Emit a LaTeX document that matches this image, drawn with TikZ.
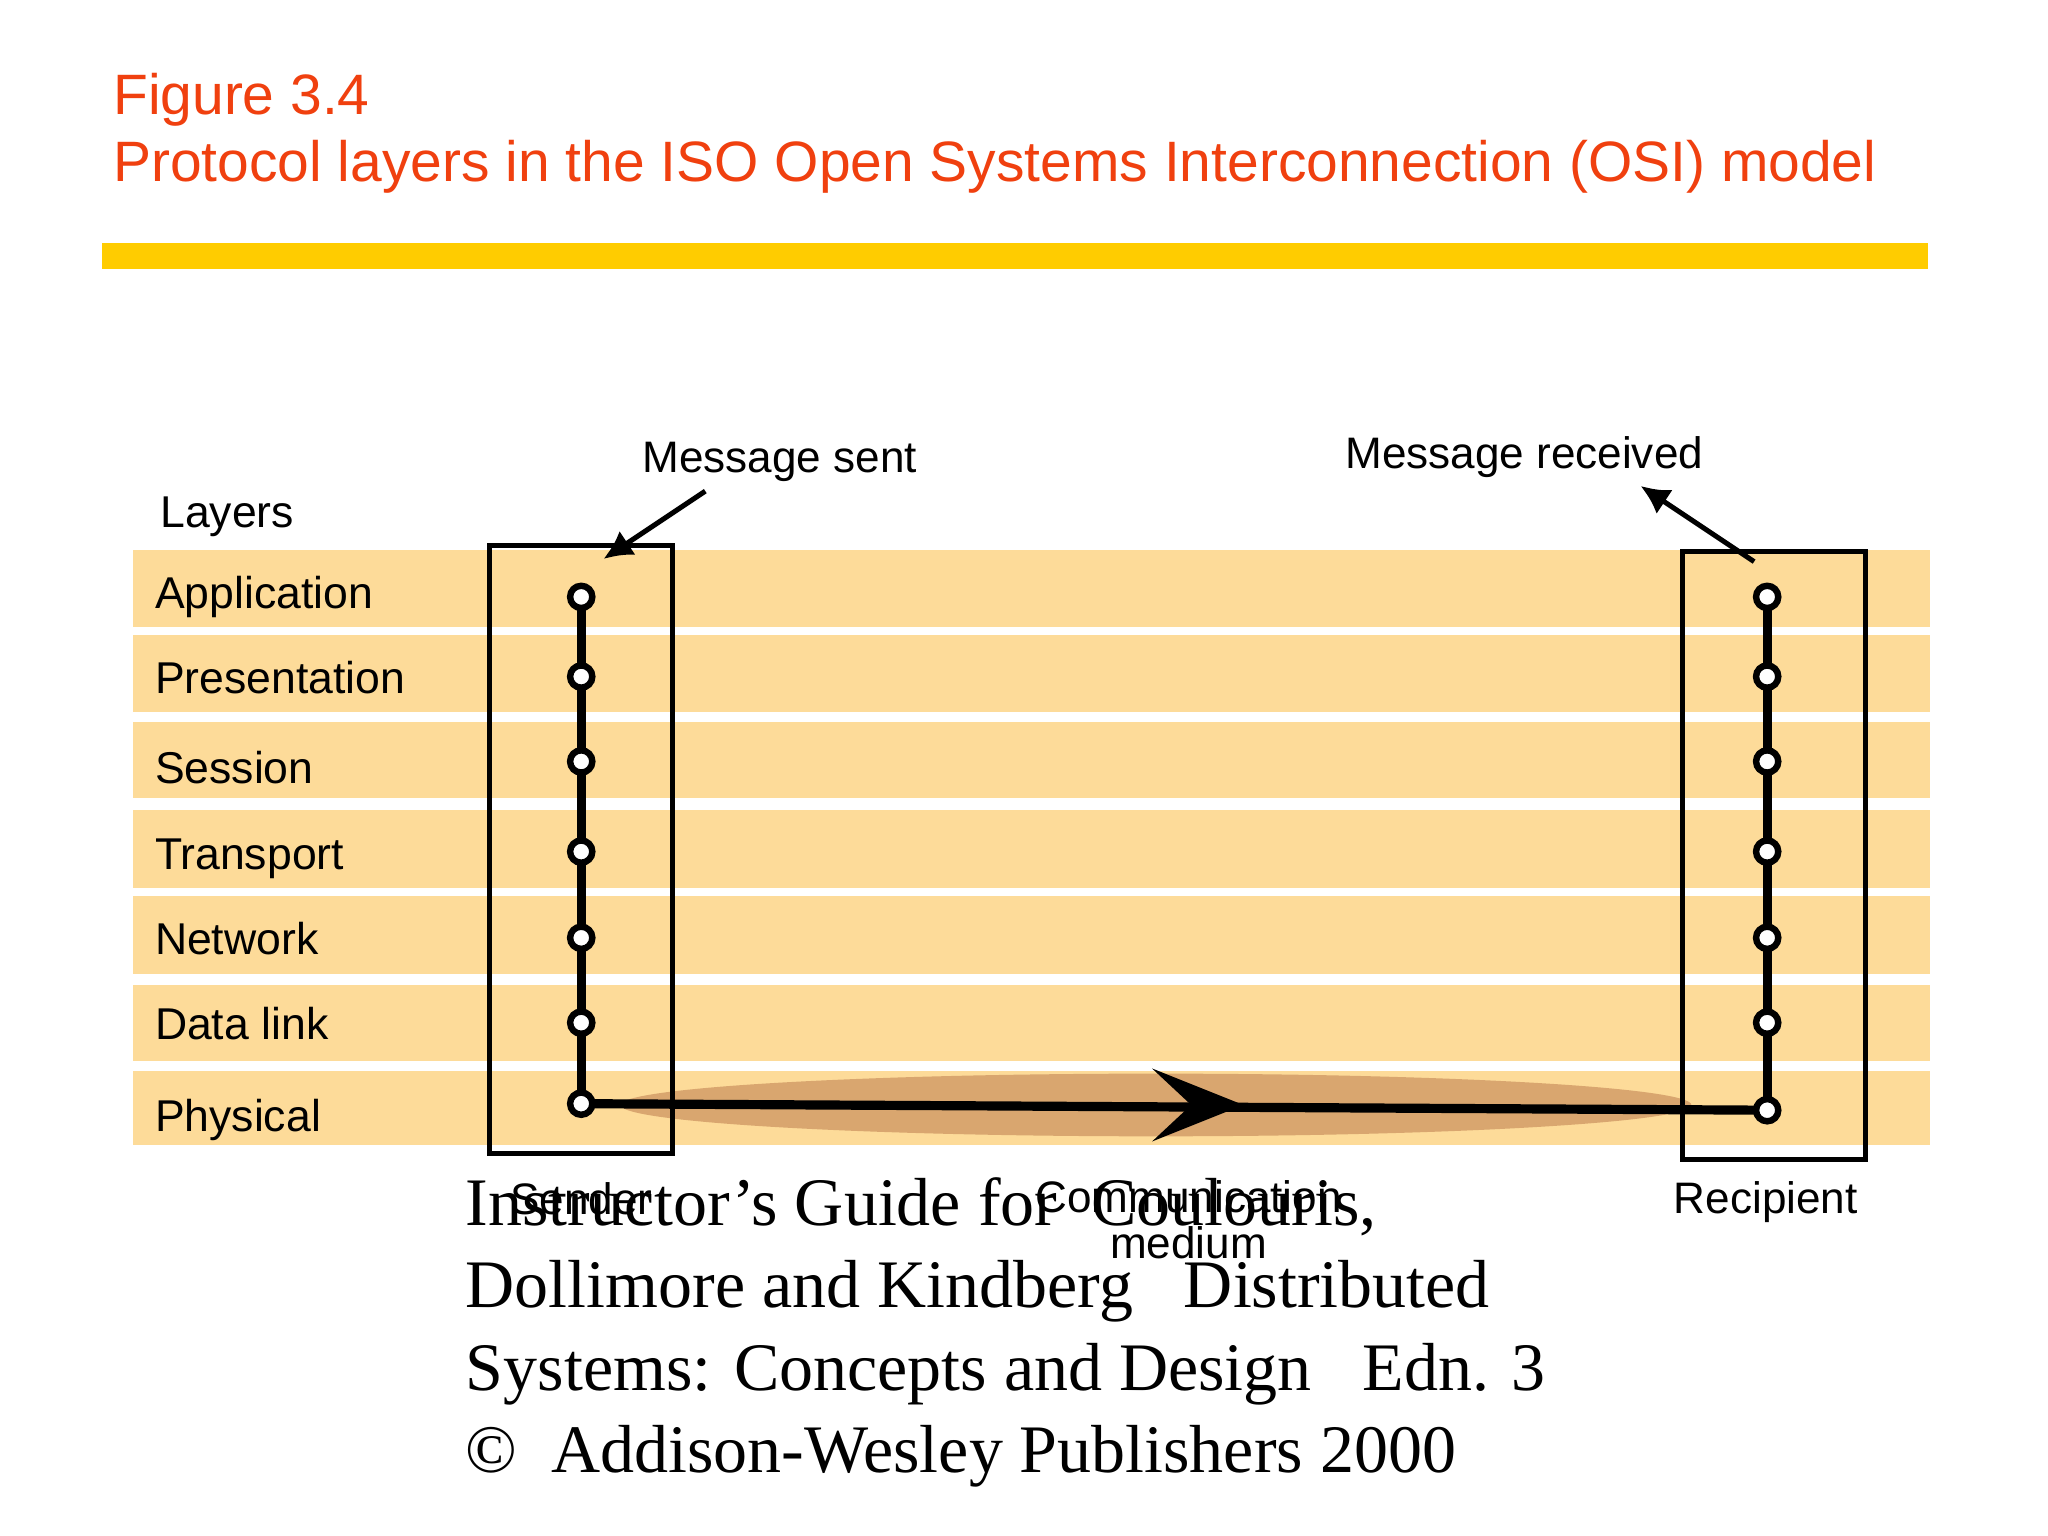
\documentclass[tikz,border=0pt]{standalone}
\usepackage{fontspec}
\setmainfont{Liberation Serif}
\newfontfamily\sansf{Liberation Sans}
\definecolor{ttl}{HTML}{F0400F}
\definecolor{bar}{HTML}{FFCC00}
\definecolor{band}{HTML}{FDDB99}
\definecolor{medium}{HTML}{D9A66F}
\tikzset{
 lbl/.style={font=\sansf\fontsize{9.7pt}{11pt}\selectfont, anchor=base west, inner sep=0},
 ctr/.style={font=\sansf\fontsize{9.6pt}{10pt}\selectfont, align=center, inner sep=0},
 dot/.style={circle, draw, line width=1.4pt, fill=white, minimum size=0.17cm, inner sep=0},
 sys/.style={draw, line width=1.1pt},
 conn/.style={line width=2pt},
 ptr/.style={line width=1.1pt, -{Latex[length=0.22cm,width=0.22cm]}}
}
\usetikzlibrary{arrows.meta}
\begin{document}
\begin{tikzpicture}[x=0.01cm,y=-0.01cm]
\useasboundingbox[fill=white] (0,0) rectangle (1568,1176);
\node[anchor=base west, inner sep=0, text=ttl, font=\sansf\fontsize{12.4pt}{14pt}\selectfont] (t1) at (86,88) {Figure 3.4};
\node[anchor=base west, inner sep=0, text=ttl, font=\sansf\fontsize{12.4pt}{14pt}\selectfont] (t2) at (86,139) {Protocol layers in the ISO Open Systems Interconnection (OSI) model};
\fill[bar] (78,186) rectangle (1476,206);
\foreach \a/\b in {421/480,486/545,553/611,620/680,686/746,754/812,820/877}
  \fill[band] (102,\a) rectangle (1478,\b);
\fill[medium] (885,846) ellipse (410 and 24);
\node[lbl] (lay) at (122,404) {Layers};
\foreach \n/\t/\y in {a/Application/466,p/Presentation/531,s/Session/600,tr/Transport/666,n/Network/731,d/Data link/796,ph/Physical/866}
  \node[lbl] (l\n) at (118,\y) {\t};
\draw[sys] (375,418) rectangle (515,883);
\draw[sys] (1288,422) rectangle (1428,888);
\foreach \i/\y in {1/457,2/518,3/583,4/652,5/718,6/783,7/845}
  \coordinate (s\i) at (445,\y);
\foreach \i/\y in {1/457,2/518,3/583,4/652,5/718,6/783,7/850}
  \coordinate (r\i) at (1353,\y);
\draw[conn] (s1)--(s7);
\draw[conn] (r1)--(r7);
\draw[conn] (s7)--(r7);
\fill (882,818)--(952,846)--(882,874)--(912,846)--cycle;
\foreach \i in {1,...,7}{\node[dot] at (s\i){}; \node[dot] at (r\i){};}
\node[ctr] (ms) at (597,354) {Message sent};
\coordinate (msa) at (540,376);
\coordinate (msb) at (462,428);
\draw[ptr] (msa)--(msb);
\node[ctr] (mr) at (1167,350) {Message received};
\coordinate (mra) at (1343,430);
\coordinate (mrb) at (1256,372);
\draw[ptr] (mra)--(mrb);
\node[ctr] (snd) at (445,918) {Sender};
\node[ctr] (cm) at (910,934) {Communication\\medium};
\node[ctr] (rcp) at (1352,920) {Recipient};
\node[anchor=north west, inner sep=0, align=left, font=\fontsize{14.8pt}{17.9pt}\selectfont] (ig) at (356,901)
 {Instructor's Guide for\ \ Coulouris,\\Dollimore and Kindberg\ \ \ Distributed\\Systems: Concepts and Design\ \ \ Edn. 3\\\copyright\ \ Addison-Wesley Publishers 2000};
\end{tikzpicture}
\end{document}
